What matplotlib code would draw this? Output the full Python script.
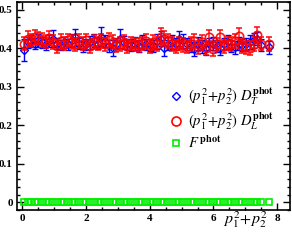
import matplotlib
matplotlib.use("Agg")
import matplotlib.pyplot as plt
from matplotlib.ticker import MultipleLocator
from matplotlib.lines import Line2D

x = [0.05, 0.17, 0.28, 0.39, 0.50, 0.62, 0.73, 0.85, 0.97, 1.08,
     1.20, 1.31, 1.43, 1.55, 1.66, 1.78, 1.90, 2.01, 2.13, 2.25,
     2.36, 2.48, 2.60, 2.71, 2.83, 2.95, 3.06, 3.18, 3.30, 3.41,
     3.53, 3.65, 3.76, 3.88, 4.00, 4.11, 4.23, 4.35, 4.46, 4.58,
     4.70, 4.81, 4.93, 5.05, 5.16, 5.28, 5.40, 5.51, 5.63, 5.75,
     5.86, 5.98, 6.10, 6.21, 6.33, 6.45, 6.56, 6.68, 6.80, 6.91,
     7.03, 7.15, 7.26, 7.38, 7.50, 7.75]

DT = [0.395, 0.415, 0.418, 0.412, 0.420, 0.415, 0.410, 0.418, 0.425, 0.412,
      0.408, 0.415, 0.410, 0.420, 0.428, 0.412, 0.405, 0.410, 0.415, 0.420,
      0.412, 0.430, 0.418, 0.405, 0.400, 0.412, 0.425, 0.415, 0.410, 0.408,
      0.412, 0.405, 0.415, 0.410, 0.408, 0.405, 0.418, 0.425, 0.400, 0.412,
      0.415, 0.410, 0.425, 0.418, 0.410, 0.405, 0.398, 0.412, 0.405, 0.400,
      0.410, 0.412, 0.405, 0.400, 0.410, 0.415, 0.405, 0.402, 0.412, 0.408,
      0.410, 0.415, 0.420, 0.425, 0.408, 0.402]
DT_err = [0.028, 0.015, 0.015, 0.014, 0.016, 0.015, 0.014, 0.015, 0.022, 0.015,
          0.014, 0.015, 0.015, 0.016, 0.022, 0.015, 0.014, 0.015, 0.016, 0.018,
          0.015, 0.024, 0.016, 0.015, 0.020, 0.015, 0.025, 0.016, 0.015, 0.015,
          0.016, 0.015, 0.018, 0.015, 0.015, 0.016, 0.020, 0.020, 0.020, 0.016,
          0.018, 0.016, 0.020, 0.018, 0.016, 0.015, 0.018, 0.016, 0.017, 0.018,
          0.016, 0.018, 0.015, 0.017, 0.016, 0.018, 0.016, 0.016, 0.018, 0.016,
          0.016, 0.018, 0.020, 0.016, 0.016, 0.016]

DL = [0.412, 0.425, 0.420, 0.428, 0.425, 0.422, 0.418, 0.426, 0.415, 0.405,
      0.418, 0.412, 0.420, 0.415, 0.410, 0.418, 0.412, 0.420, 0.405, 0.415,
      0.412, 0.418, 0.410, 0.422, 0.415, 0.408, 0.410, 0.415, 0.405, 0.412,
      0.410, 0.408, 0.412, 0.418, 0.405, 0.415, 0.410, 0.430, 0.425, 0.418,
      0.410, 0.405, 0.412, 0.408, 0.405, 0.410, 0.418, 0.402, 0.415, 0.400,
      0.428, 0.398, 0.410, 0.428, 0.405, 0.412, 0.410, 0.418, 0.432, 0.405,
      0.402, 0.400, 0.410, 0.434, 0.412, 0.410]
DL_err = [0.018, 0.020, 0.018, 0.020, 0.018, 0.018, 0.017, 0.018, 0.018, 0.017,
          0.018, 0.017, 0.018, 0.018, 0.017, 0.018, 0.017, 0.018, 0.017, 0.018,
          0.017, 0.018, 0.017, 0.018, 0.018, 0.017, 0.018, 0.018, 0.017, 0.018,
          0.017, 0.018, 0.017, 0.018, 0.017, 0.018, 0.018, 0.022, 0.020, 0.018,
          0.018, 0.017, 0.018, 0.018, 0.017, 0.018, 0.018, 0.017, 0.018, 0.017,
          0.018, 0.018, 0.017, 0.018, 0.017, 0.018, 0.018, 0.018, 0.020, 0.018,
          0.017, 0.018, 0.018, 0.020, 0.018, 0.018]

F = [0.0] * len(x)

labels = [r'$(p_1^2\!+\!p_2^2)\ D_T^{\mathbf{phot}}$',
          r'$(p_1^2\!+\!p_2^2)\ D_L^{\mathbf{phot}}$',
          r'$F^{\,\mathbf{phot}}$']

plt.rcParams['mathtext.fontset'] = 'stix'
plt.rcParams['font.family'] = ['Liberation Serif', 'DejaVu Serif']

fig = plt.figure(figsize=(2.92, 2.40), dpi=100)
ax = fig.add_axes([0.058, 0.125, 0.935, 0.867])

blue = '#0000ff'
red = '#ff0000'
green = '#00ee00'

ax.errorbar(x, DT, yerr=DT_err, fmt='D', color=blue, mfc='none', mec=blue,
            ms=4.0, mew=1.0, elinewidth=1.0, capsize=2.5, capthick=1.0, zorder=3)
ax.errorbar(x, DL, yerr=DL_err, fmt='o', color=red, mfc='none', mec=red,
            ms=6.0, mew=1.2, elinewidth=1.1, capsize=2.5, capthick=1.1,
            alpha=0.9, zorder=4)
ax.plot(x, F, 's', color=green, mfc='none', mec=green, ms=4.2, mew=1.2, zorder=5)

ax.set_xlim(-0.17, 8.4)
ax.set_ylim(-0.02, 0.52)
ax.xaxis.set_minor_locator(MultipleLocator(0.5))
ax.yaxis.set_minor_locator(MultipleLocator(0.02))
ax.tick_params(which='both', direction='in', top=True, right=True, width=1.0)
ax.tick_params(which='major', length=5, labelsize=8, pad=3)
ax.tick_params(which='minor', length=2.5)
ax.set_yticks([0, 0.1, 0.2, 0.3, 0.4, 0.5])
ax.set_yticklabels(['0', '0.1', '0.2', '0.3', '0.4', '0.5'], fontweight='bold')
ax.set_xticks([0, 2, 4, 6, 8])
ax.set_xticklabels(['0', '2', '4', '6', '8'], fontweight='bold')
for s in ax.spines.values():
    s.set_linewidth(1.2)

handles = [
    Line2D([], [], ls='none', marker='D', mfc='none', mec=blue, ms=4.5, mew=1.0),
    Line2D([], [], ls='none', marker='o', mfc='none', mec=red, ms=6.5, mew=1.2),
    Line2D([], [], ls='none', marker='s', mfc='none', mec=green, ms=5.0, mew=1.2),
]
leg = ax.legend(handles, labels, loc='upper left', bbox_to_anchor=(0.555, 0.60),
                frameon=False, fontsize=10.5, handlelength=1.0, handletextpad=0.35,
                labelspacing=0.2, borderaxespad=0, borderpad=0)

fig.text(0.84, 0.085, r'$p_1^2\!+\!p_2^2$', fontsize=11.5, ha='center', va='center')

fig.savefig('out.png', dpi=100)
